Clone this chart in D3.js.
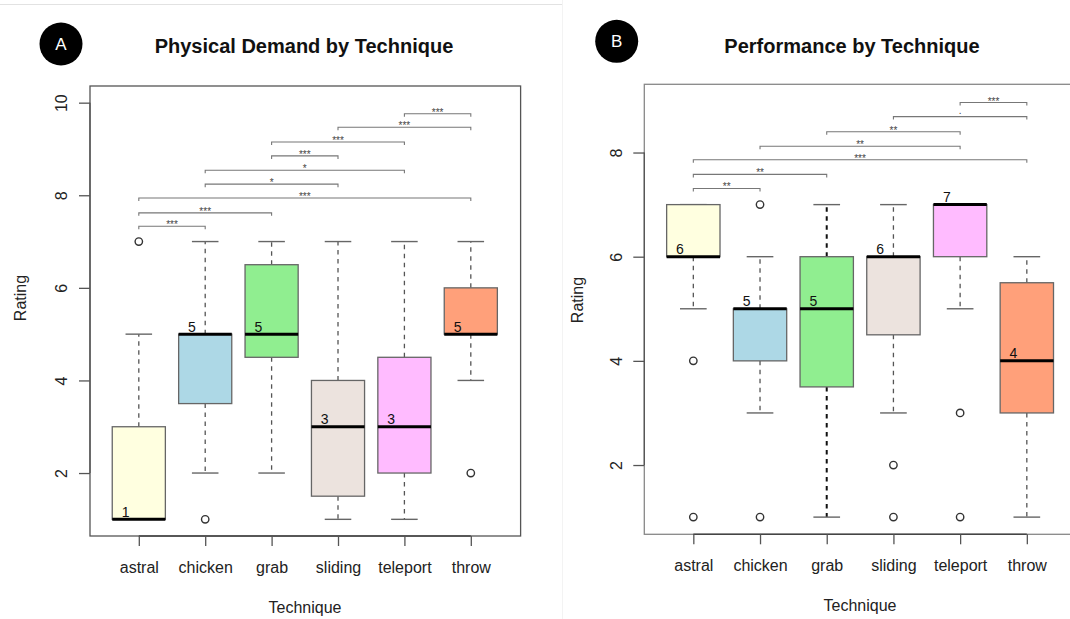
<!DOCTYPE html>
<html>
<head>
<meta charset="utf-8">
<script src="https://cdn.jsdelivr.net/npm/d3@7"></script>
<style>
  html, body { margin: 0; padding: 0; background: #fff; }
  svg { display: block; font-family: "Liberation Sans", Arial, Helvetica, sans-serif; }
</style>
</head>
<body>
<svg id="chart" width="1070" height="619"></svg>
<script>
// ---------------- data ----------------
const techniques = ["astral", "chicken", "grab", "sliding", "teleport", "throw"];
const fillColors = ["#FFFFE0", "#ADD8E6", "#90EE90", "#ECE3DE", "#FFBBFF", "#FFA07A"];

// Panel A: Physical Demand
const demandLowerWhisker = [1, 2, 2, 1, 1, 4];
const demandQ1 = [1, 3.5, 4.5, 1.5, 2, 5];
const demandMedian = [1, 5, 5, 3, 3, 5];
const demandQ3 = [3, 5, 6.5, 4, 4.5, 6];
const demandUpperWhisker = [5, 7, 7, 7, 7, 7];
const demandOutliers = [[7], [1], [], [], [], [2]];
const demandTicks = [2, 4, 6, 8, 10];
// significance brackets: [from, to, level, label]
const demandBrackets = [
  ["astral", "chicken", 7.33, "***"],
  ["astral", "grab", 7.62, "***"],
  ["astral", "throw", 7.94, "***"],
  ["chicken", "sliding", 8.24, "*"],
  ["chicken", "teleport", 8.54, "*"],
  ["grab", "sliding", 8.85, "***"],
  ["grab", "teleport", 9.15, "***"],
  ["sliding", "throw", 9.47, "***"],
  ["teleport", "throw", 9.76, "***"]
];

// Panel B: Performance
const perfLowerWhisker = [5, 3, 1, 3, 5, 1];
const perfQ1 = [6, 4, 3.5, 4.5, 6, 3];
const perfMedian = [6, 5, 5, 6, 7, 4];
const perfQ3 = [7, 5, 6, 6, 7, 5.5];
const perfUpperWhisker = [7, 6, 7, 7, 7, 6];
const perfOutliers = [[4, 1], [7, 1], [], [2, 1], [3, 1], []];
const perfTicks = [2, 4, 6, 8];
const perfBrackets = [
  ["astral", "chicken", 7.31, "**"],
  ["astral", "grab", 7.58, "**"],
  ["astral", "throw", 7.86, "***"],
  ["chicken", "teleport", 8.12, "**"],
  ["grab", "teleport", 8.40, "**"],
  ["sliding", "throw", 8.69, "."],
  ["teleport", "throw", 8.96, "***"]
];

// ---------------- drawing ----------------
const svg = d3.select("#chart");

// light page decorations
svg.append("line").attr("x1", 0).attr("x2", 562).attr("y1", 4.5).attr("y2", 4.5)
  .attr("stroke", "#e2e2e2").attr("stroke-width", 1);
svg.append("line").attr("x1", 562.5).attr("x2", 562.5).attr("y1", 0).attr("y2", 619)
  .attr("stroke", "#f3f3f3").attr("stroke-width", 1);

function drawPanel(cfg) {
  const g = svg.append("g");
  const x = d3.scaleLinear().domain([0.265, 6.75]).range([cfg.left, cfg.left + 6.485 * cfg.unitX]);
  const y = d3.scaleLinear().domain(cfg.yDomain).range([cfg.bottom, cfg.top]);
  const pos = name => x(techniques.indexOf(name) + 1);
  const halfBox = 0.4 * cfg.unitX;
  const halfCap = 0.2 * cfg.unitX;

  const rows = techniques.map((t, i) => ({
    name: t, i: i, pos: i + 1,
    lo: cfg.lower[i], q1: cfg.q1[i], med: cfg.median[i], q3: cfg.q3[i], hi: cfg.upper[i],
    out: cfg.outliers[i], fill: fillColors[i]
  }));

  // frame
  g.append("rect")
    .attr("x", cfg.left).attr("y", cfg.top)
    .attr("width", x(6.75) - cfg.left).attr("height", cfg.bottom - cfg.top)
    .attr("fill", "none").attr("stroke", cfg.frameColor).attr("stroke-width", 1.3);

  // y axis
  const yAxis = d3.axisLeft(y).tickValues(cfg.yTicks).tickSize(11).tickFormat(d3.format("d"));
  const ya = g.append("g").attr("transform", `translate(${cfg.left},0)`).call(yAxis);
  ya.select(".domain").attr("stroke", "#555").attr("stroke-width", 1.3)
    .attr("d", `M0,${y(cfg.yTicks[0])}V${y(cfg.yTicks[cfg.yTicks.length - 1])}`);
  ya.selectAll(".tick line").attr("stroke", "#555").attr("stroke-width", 1.3);
  ya.selectAll(".tick text")
    .attr("font-size", 16).attr("fill", "#222")
    .attr("x", 0).attr("dy", 0)
    .attr("text-anchor", "middle")
    .attr("transform", `translate(${cfg.yLabelX - cfg.left},0) rotate(-90)`)
    .attr("font-family", "Liberation Sans, Arial, sans-serif");

  // x axis
  const xAxis = d3.axisBottom(x).tickValues([1, 2, 3, 4, 5, 6]).tickSize(10)
    .tickFormat(d => techniques[d - 1]);
  const xa = g.append("g").attr("transform", `translate(0,${cfg.bottom})`).call(xAxis);
  xa.select(".domain").attr("stroke", "#444").attr("stroke-width", 1.6)
    .attr("d", `M${x(1)},0H${x(6)}`);
  xa.selectAll(".tick line").attr("stroke", "#555").attr("stroke-width", 1.3);
  xa.selectAll(".tick text").attr("font-size", 16).attr("fill", "#222")
    .attr("y", cfg.xLabelY - cfg.bottom).attr("dy", 0)
    .attr("font-family", "Liberation Sans, Arial, sans-serif");

  // whiskers (dashed)
  const wg = g.append("g");
  rows.forEach(r => {
    const wc = (cfg.darkWhisker === r.name) ? "#111" : "#555";
    const ww = (cfg.darkWhisker === r.name) ? 2 : 1.3;
    wg.append("line").attr("x1", x(r.pos)).attr("x2", x(r.pos))
      .attr("y1", y(r.q3)).attr("y2", y(r.hi))
      .attr("stroke", wc).attr("stroke-width", ww).attr("stroke-dasharray", "4.5,4.5");
    wg.append("line").attr("x1", x(r.pos)).attr("x2", x(r.pos))
      .attr("y1", y(r.q1)).attr("y2", y(r.lo))
      .attr("stroke", wc).attr("stroke-width", ww).attr("stroke-dasharray", "4.5,4.5");
    [r.lo, r.hi].forEach(v => {
      wg.append("line").attr("x1", x(r.pos) - halfCap).attr("x2", x(r.pos) + halfCap)
        .attr("y1", y(v)).attr("y2", y(v))
        .attr("stroke", "#666").attr("stroke-width", 1.4);
    });
  });

  // boxes
  g.append("g").selectAll("rect").data(rows).join("rect")
    .attr("x", d => x(d.pos) - halfBox).attr("width", 2 * halfBox)
    .attr("y", d => y(d.q3)).attr("height", d => y(d.q1) - y(d.q3))
    .attr("fill", d => d.fill).attr("stroke", "#666").attr("stroke-width", 1.3);

  // medians
  g.append("g").selectAll("line").data(rows).join("line")
    .attr("x1", d => x(d.pos) - halfBox).attr("x2", d => x(d.pos) + halfBox)
    .attr("y1", d => y(d.med)).attr("y2", d => y(d.med))
    .attr("stroke", "#000").attr("stroke-width", 3);

  // median labels
  g.append("g").selectAll("text").data(rows).join("text")
    .attr("x", d => x(d.pos) - 0.2 * cfg.unitX)
    .attr("y", d => y(d.med) - 2.5)
    .attr("text-anchor", "middle").attr("font-size", 14).attr("fill", "#111")
    .text(d => d.med);

  // outliers
  const og = g.append("g");
  rows.forEach(r => {
    r.out.forEach(v => {
      og.append("circle").attr("cx", x(r.pos)).attr("cy", y(v)).attr("r", 3.7)
        .attr("fill", "none").attr("stroke", "#333").attr("stroke-width", 1.4);
    });
  });

  // significance brackets
  const bg = g.append("g");
  cfg.brackets.forEach(b => {
    const x1 = pos(b[0]), x2 = pos(b[1]), yy = y(b[2]);
    bg.append("path")
      .attr("d", `M${x1},${yy + 3}V${yy}H${x2}V${yy + 3}`)
      .attr("fill", "none").attr("stroke", "#777").attr("stroke-width", 1.1);
    bg.append("text")
      .attr("x", (x1 + x2) / 2)
      .attr("y", b[3] === "." ? yy - 3 : yy + 2)
      .attr("text-anchor", "middle").attr("font-size", 10).attr("fill", "#444")
      .text(b[3]);
  });

  // titles
  g.append("text").attr("x", cfg.titleX).attr("y", 52.5)
    .attr("text-anchor", "middle").attr("font-size", 20).attr("font-weight", "bold")
    .attr("fill", "#111").text(cfg.title);
  g.append("text").attr("x", cfg.xTitleX).attr("y", cfg.xTitleY)
    .attr("text-anchor", "middle").attr("font-size", 16).attr("fill", "#222").text("Technique");
  g.append("text").attr("transform", `translate(${cfg.yTitleX},${cfg.yTitleY}) rotate(-90)`)
    .attr("text-anchor", "middle").attr("font-size", 16).attr("fill", "#222").text("Rating");

  // panel badge
  g.append("circle").attr("cx", cfg.badgeX).attr("cy", cfg.badgeY).attr("r", 21.5).attr("fill", "#000");
  g.append("text").attr("x", cfg.badgeX).attr("y", cfg.badgeY + 6)
    .attr("text-anchor", "middle").attr("font-size", 17).attr("fill", "#fff").text(cfg.badge);
}

drawPanel({
  left: 90, top: 86, bottom: 536, unitX: 66.4, yDomain: [0.64, 10.36],
  lower: demandLowerWhisker, q1: demandQ1, median: demandMedian, q3: demandQ3,
  upper: demandUpperWhisker, outliers: demandOutliers, yTicks: demandTicks,
  brackets: demandBrackets, frameColor: "#555",
  yLabelX: 67, xLabelY: 572.5,
  title: "Physical Demand by Technique", titleX: 304,
  xTitleX: 305, xTitleY: 613, yTitleX: 26, yTitleY: 298,
  badge: "A", badgeX: 61, badgeY: 44, darkWhisker: null
});

drawPanel({
  left: 644.3, top: 84.3, bottom: 534.3, unitX: 66.7, yDomain: [0.67, 9.31],
  lower: perfLowerWhisker, q1: perfQ1, median: perfMedian, q3: perfQ3,
  upper: perfUpperWhisker, outliers: perfOutliers, yTicks: perfTicks,
  brackets: perfBrackets, frameColor: "#888",
  yLabelX: 621.5, xLabelY: 571.5,
  title: "Performance by Technique", titleX: 852,
  xTitleX: 860, xTitleY: 611, yTitleX: 583, yTitleY: 300,
  badge: "B", badgeX: 616.7, badgeY: 41.3, darkWhisker: "grab"
});
</script>
</body>
</html>
